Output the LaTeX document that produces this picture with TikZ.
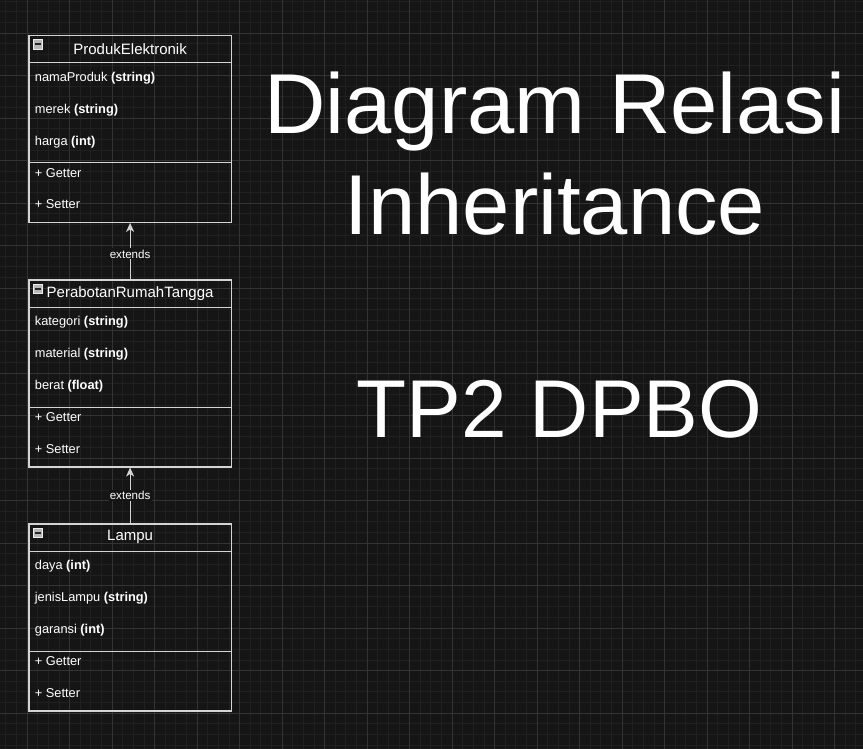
\documentclass[tikz,border=0pt]{standalone}
\usepackage{fontspec}
\setmainfont{Liberation Sans}
\usepackage{tikz}
\usetikzlibrary{arrows.meta,positioning}
\definecolor{kanvas}{HTML}{151515}
\definecolor{gridkecil}{HTML}{202020}
\definecolor{gridbesar}{HTML}{333333}
\definecolor{garisuml}{HTML}{D4D4D4}
\definecolor{ikonabu}{HTML}{B8B8B8}

\begin{document}
\begin{tikzpicture}[
  x=1pt,y=-1pt,
  font=\fontsize{12.8}{15}\selectfont,
  kelas/.style={draw=garisuml,line width=1.2pt,anchor=north west,inner sep=0pt,minimum width=202.4pt,minimum height=187pt},
  garis/.style={draw=garisuml,line width=1.2pt},
  judul/.style={font=\fontsize{15}{18}\selectfont,text=white},
  atr/.style={anchor=west,text=white,inner sep=0pt,text height=9pt,text depth=3pt},
  ikon/.style={draw=gray!15,fill=ikonabu,line width=0.8pt,minimum size=9.5pt,inner sep=0pt,
    path picture={\draw[black!85,line width=1.4pt] ([xshift=2pt]path picture bounding box.west) -- ([xshift=-2pt]path picture bounding box.east);}},
  ext/.style={fill=kanvas,text=white,font=\fontsize{11.6}{13}\selectfont,inner sep=1.2pt},
  fl/.style={-{Stealth[length=9pt,width=8pt,inset=2.5pt]},draw=garisuml,line width=1.2pt},
  besar/.style={font=\fontsize{85}{100}\selectfont,text=white,anchor=base}]
\useasboundingbox (0,0) rectangle (863,749);
\fill[kanvas] (0,0) rectangle (863,749);
% grid
\foreach \k in {0,...,80} \draw[gridkecil,line width=0.7pt] ({5.75+10.625*\k},0) -- ({5.75+10.625*\k},749);
\foreach \k in {0,...,70} \draw[gridkecil,line width=0.7pt] (0,{1.125+10.625*\k}) -- (863,{1.125+10.625*\k});
\foreach \k in {0,...,19} \draw[gridbesar,line width=0.7pt] ({27+42.5*\k},0) -- ({27+42.5*\k},749);
\foreach \k in {0,...,16} \draw[gridbesar,line width=0.7pt] (0,{33+42.5*\k}) -- (863,{33+42.5*\k});

% kelas ProdukElektronik
\node[kelas] (produk) at (28.3,34.7) {};
\draw[garis] ([yshift=-28pt]produk.north west) -- ([yshift=-28pt]produk.north east);
\draw[garis] ([yshift=-128pt]produk.north west) -- ([yshift=-128pt]produk.north east);
\node[ikon] (produkIkon) at ([xshift=9.5pt,yshift=-9.5pt]produk.north west) {};
\node[judul] (produkJudul) at ([yshift=-14pt]produk.north) {ProdukElektronik};
\node[atr] (namaProduk) at ([xshift=6.4pt,yshift=-43.5pt]produk.north west) {namaProduk \textbf{(string)}};
\node[atr] (merek) at ([xshift=6.4pt,yshift=-75.5pt]produk.north west) {merek \textbf{(string)}};
\node[atr] (harga) at ([xshift=6.4pt,yshift=-107.5pt]produk.north west) {harga \textbf{(int)}};
\node[atr] (produkGet) at ([xshift=6.4pt,yshift=-139.5pt]produk.north west) {+ Getter};
\node[atr] (produkSet) at ([xshift=6.4pt,yshift=-171pt]produk.north west) {+ Setter};

% kelas PerabotanRumahTangga
\node[kelas] (perabot) at (28.3,279.3) {};
\draw[garis] ([yshift=-28pt]perabot.north west) -- ([yshift=-28pt]perabot.north east);
\draw[garis] ([yshift=-128pt]perabot.north west) -- ([yshift=-128pt]perabot.north east);
\node[ikon] (perabotIkon) at ([xshift=9.5pt,yshift=-9.5pt]perabot.north west) {};
\node[judul] (perabotJudul) at ([yshift=-14pt]perabot.north) {PerabotanRumahTangga};
\node[atr] (kategori) at ([xshift=6.4pt,yshift=-43.5pt]perabot.north west) {kategori \textbf{(string)}};
\node[atr] (material) at ([xshift=6.4pt,yshift=-75.5pt]perabot.north west) {material \textbf{(string)}};
\node[atr] (berat) at ([xshift=6.4pt,yshift=-107.5pt]perabot.north west) {berat \textbf{(float)}};
\node[atr] (perabotGet) at ([xshift=6.4pt,yshift=-139.5pt]perabot.north west) {+ Getter};
\node[atr] (perabotSet) at ([xshift=6.4pt,yshift=-171pt]perabot.north west) {+ Setter};

% kelas Lampu
\node[kelas] (lampu) at (28.3,523.3) {};
\draw[garis] ([yshift=-28pt]lampu.north west) -- ([yshift=-28pt]lampu.north east);
\draw[garis] ([yshift=-128pt]lampu.north west) -- ([yshift=-128pt]lampu.north east);
\node[ikon] (lampuIkon) at ([xshift=9.5pt,yshift=-9.5pt]lampu.north west) {};
\node[judul] (lampuJudul) at ([yshift=-14pt]lampu.north) {Lampu};
\node[atr] (daya) at ([xshift=6.4pt,yshift=-43.5pt]lampu.north west) {daya \textbf{(int)}};
\node[atr] (jenisLampu) at ([xshift=6.4pt,yshift=-75.5pt]lampu.north west) {jenisLampu \textbf{(string)}};
\node[atr] (garansi) at ([xshift=6.4pt,yshift=-107.5pt]lampu.north west) {garansi \textbf{(int)}};
\node[atr] (lampuGet) at ([xshift=6.4pt,yshift=-139.5pt]lampu.north west) {+ Getter};
\node[atr] (lampuSet) at ([xshift=6.4pt,yshift=-171pt]lampu.north west) {+ Setter};

% pewarisan
\draw[fl] (perabot.north) -- node[ext,pos=0.45]{extends} (produk.south);
\draw[fl] (lampu.north) -- node[ext,pos=0.5]{extends} (perabot.south);

% judul besar
\node[besar] (judul1) at (555,134) {Diagram Relasi};
\node[besar] (judul2) at (555,234) {Inheritance};
\node[besar,font=\fontsize{82}{98}\selectfont] (judul3) at (559.5,437) {TP2 DPBO};
\end{tikzpicture}
\end{document}
